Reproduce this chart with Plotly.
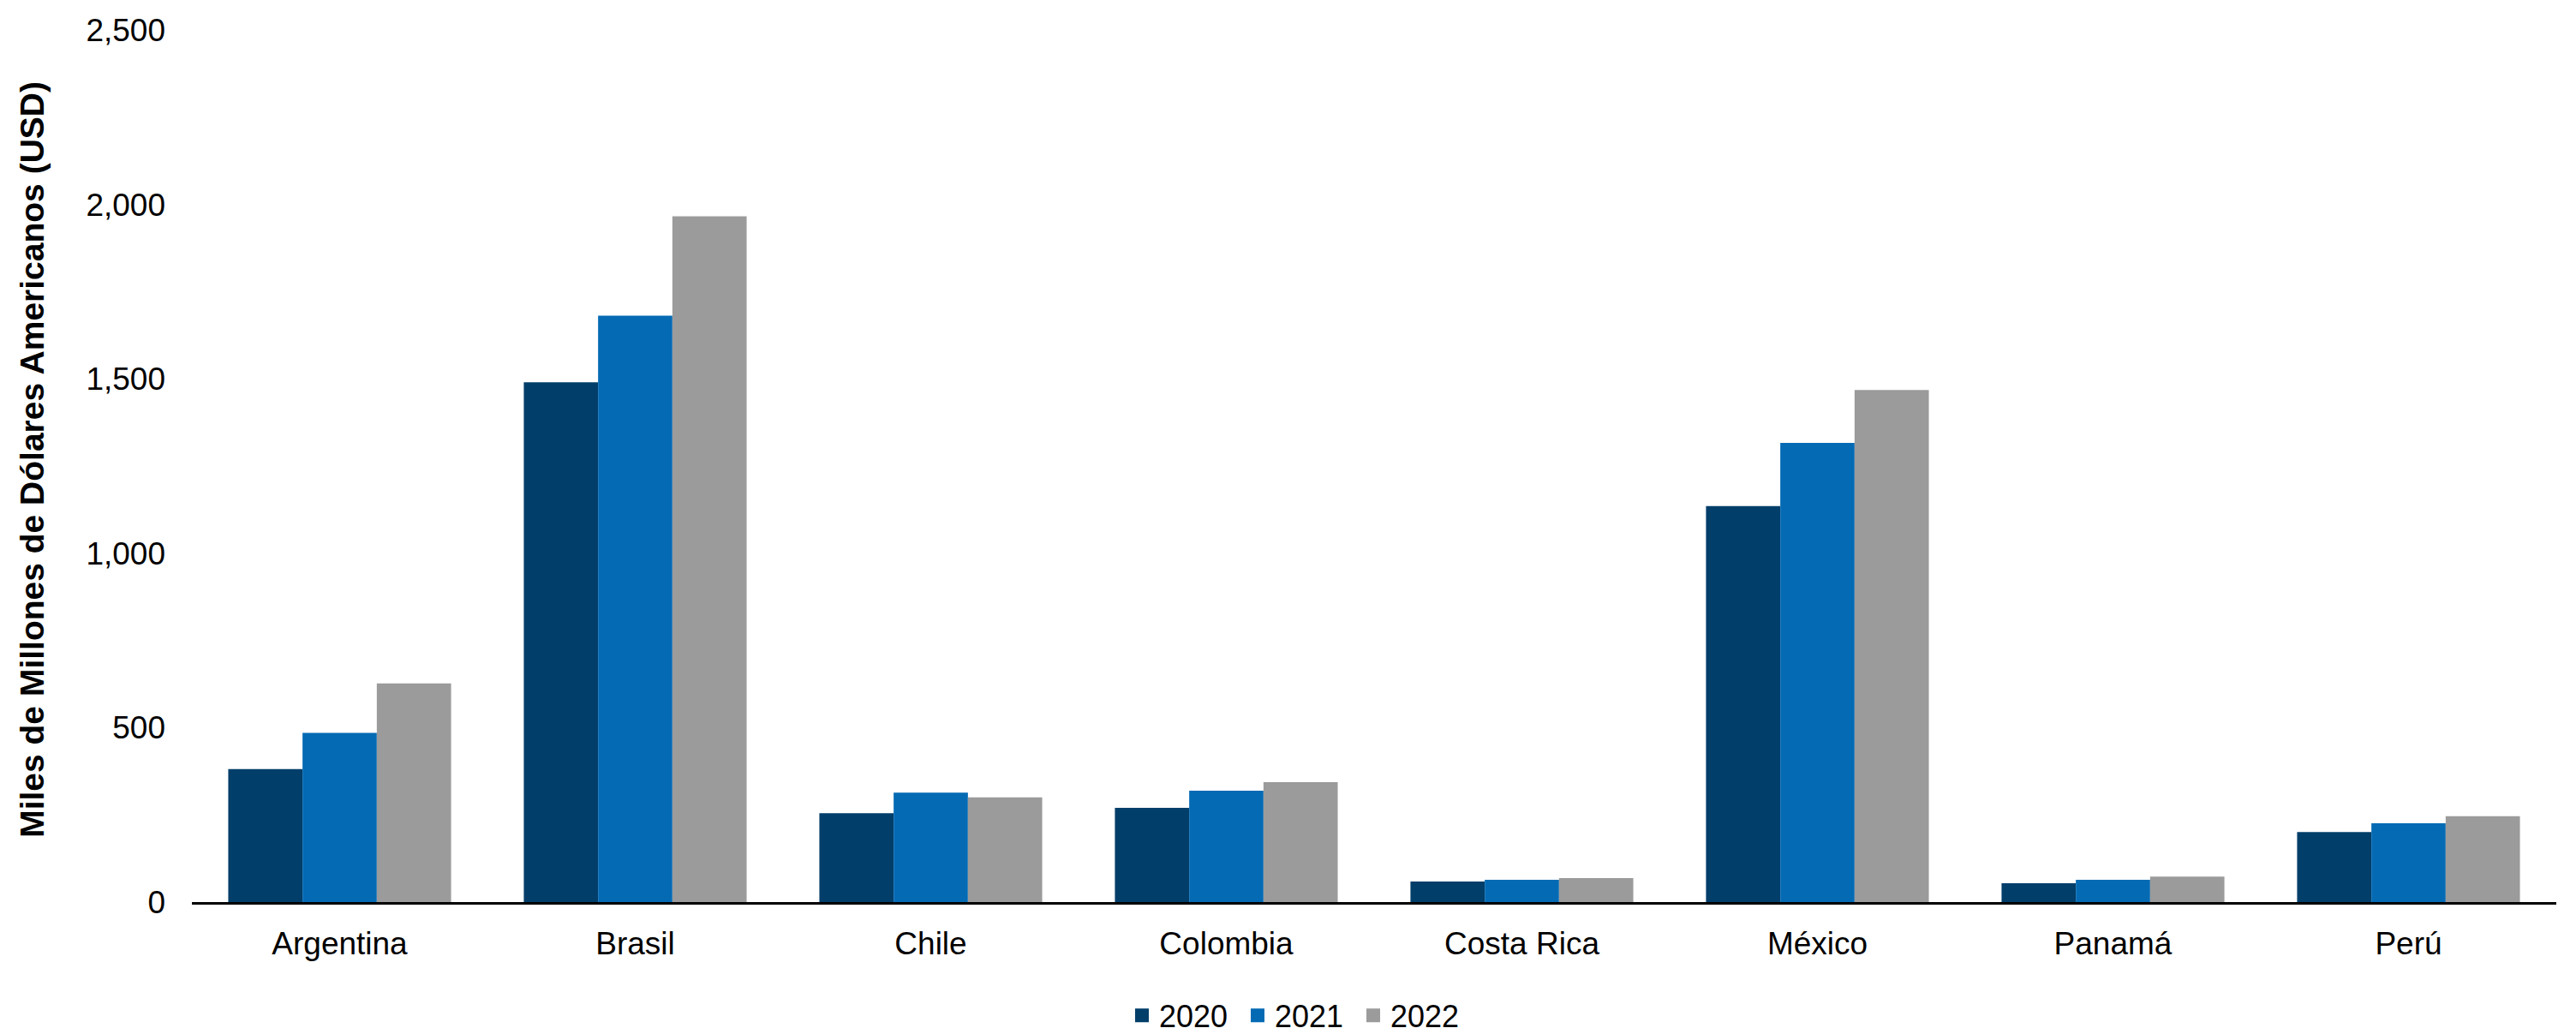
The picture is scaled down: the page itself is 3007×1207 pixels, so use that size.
import plotly.graph_objects as go

paises = ["Argentina", "Brasil", "Chile", "Colombia", "Costa Rica", "México", "Panamá", "Perú"]
v2020 = [381, 1490, 255, 270, 59, 1135, 54, 201]
v2021 = [485, 1681, 314, 319, 64, 1316, 64, 226]
v2022 = [627, 1966, 300, 344, 69, 1468, 73, 246]
anios = ["2020", "2021", "2022"]
colores = ["#013E6A", "#046AB4", "#9B9B9B"]
titulo_y = "Miles de Millones de Dólares Americanos (USD)"

FONT = "Liberation Sans, Arial, sans-serif"

fig = go.Figure()
for nombre, vals, col in zip(anios, [v2020, v2021, v2022], colores):
    fig.add_trace(go.Bar(x=paises, y=vals, name=nombre, showlegend=False,
                         marker=dict(color=col, line=dict(width=0))))
# legend entries with square swatches
for nombre, col in zip(anios, colores):
    fig.add_trace(go.Scatter(x=[None], y=[None], mode="markers", name=nombre,
                             marker=dict(symbol="square", size=18, color=col)))

fig.add_annotation(text="<b>" + titulo_y + "</b>", textangle=-90,
                   xref="paper", yref="paper", x=-0.0674, y=0.508,
                   xanchor="center", yanchor="middle", showarrow=False,
                   font=dict(size=39, family=FONT, color="#000000"))

fig.update_layout(
    width=3007, height=1207,
    barmode="group", bargap=0.246, bargroupgap=0,
    plot_bgcolor="white", paper_bgcolor="white",
    margin=dict(l=224, r=23, t=35, b=154, autoexpand=False),
    font=dict(family=FONT, size=37, color="#000000"),
    legend=dict(orientation="h", x=0.504, xanchor="center", xref="container",
                y=0.018, yanchor="middle", yref="container",
                font=dict(size=36), itemwidth=30, entrywidth=90, tracegroupgap=0),
    xaxis=dict(showline=True, linecolor="#000000", linewidth=3, ticks="", showgrid=False,
               tickfont=dict(size=37), ticklabelstandoff=14, automargin=False),
    yaxis=dict(range=[0, 2500], dtick=500, tickformat=",", showgrid=False, zeroline=False,
               showline=False, ticks="", tickfont=dict(size=37), ticklabelstandoff=30,
               automargin=False),
)

fig.write_html("out.html")
